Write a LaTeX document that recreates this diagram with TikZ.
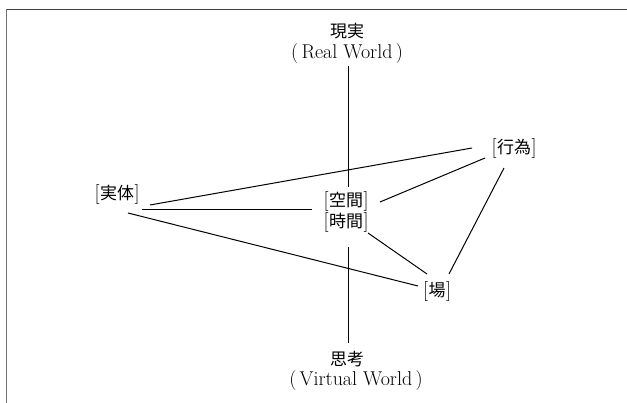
\documentclass[tikz,border=0pt]{standalone}
\usepackage{fontspec}
\newfontfamily\cjk{Noto Sans CJK JP}
\usetikzlibrary{calc}
\newcommand{\latsz}{\fontsize{20}{23}\selectfont}
\newcommand{\cjksz}{\fontsize{17}{20}\selectfont\cjk}
\newcommand{\brk}[1]{{\latsz[}\hspace{0.5pt}{\cjksz #1}\hspace{0.5pt}{\latsz]}}
\begin{document}
\begin{tikzpicture}[x=1pt,y=-1pt,
  lbl/.style={inner sep=0pt, text=black},
  conn/.style={line width=1pt, black}]
\useasboundingbox (0,0) rectangle (627,403);
% frame
\draw[line width=1.3pt, black!75] (6,9.5) -- (627,9.5);
\draw[line width=1pt, black!55] (6.5,9.5) -- (6.5,403);
% nodes
\node[lbl] (genjitsu) at (347,31) {\cjksz 現実};
\node[lbl] (real) at (347,54) {\latsz (\,Real World\,)};
\node[lbl] (kuukan) at (346,202) {\brk{空間}};
\node[lbl] (jikan) at (346,223) {\brk{時間}};
\node[lbl] (shikou) at (347,359) {\cjksz 思考};
\node[lbl] (virtual) at (356,381) {\latsz (\,Virtual World\,)};
\node[lbl] (jittai) at (117,195) {\brk{実体}};
\node[lbl] (koui) at (514,149) {\brk{行為}};
\node[lbl] (ba) at (437,292) {\brk{場}};
% connectors
\draw[conn] ($(real)+(1,12)$) -- ($(kuukan)+(2,-15)$);
\draw[conn] ($(jikan)+(2,24)$) -- ($(shikou)+(1,-16)$);
\draw[conn] ($(jittai)+(33,10)$) -- ($(koui)+(-42,-1)$);
\draw[conn] ($(jittai)+(25,15)$) -- ($(kuukan)+(-34,8)$);
\draw[conn] ($(jittai)+(11,18)$) -- ($(ba)+(-19,-6)$);
\draw[conn] ($(kuukan)+(34,0)$) -- ($(koui)+(-29,9)$);
\draw[conn] ($(jikan)+(22,10)$) -- ($(ba)+(-10,-18)$);
\draw[conn] ($(koui)+(-10,19)$) -- ($(ba)+(12,-18)$);
\end{tikzpicture}
\end{document}
